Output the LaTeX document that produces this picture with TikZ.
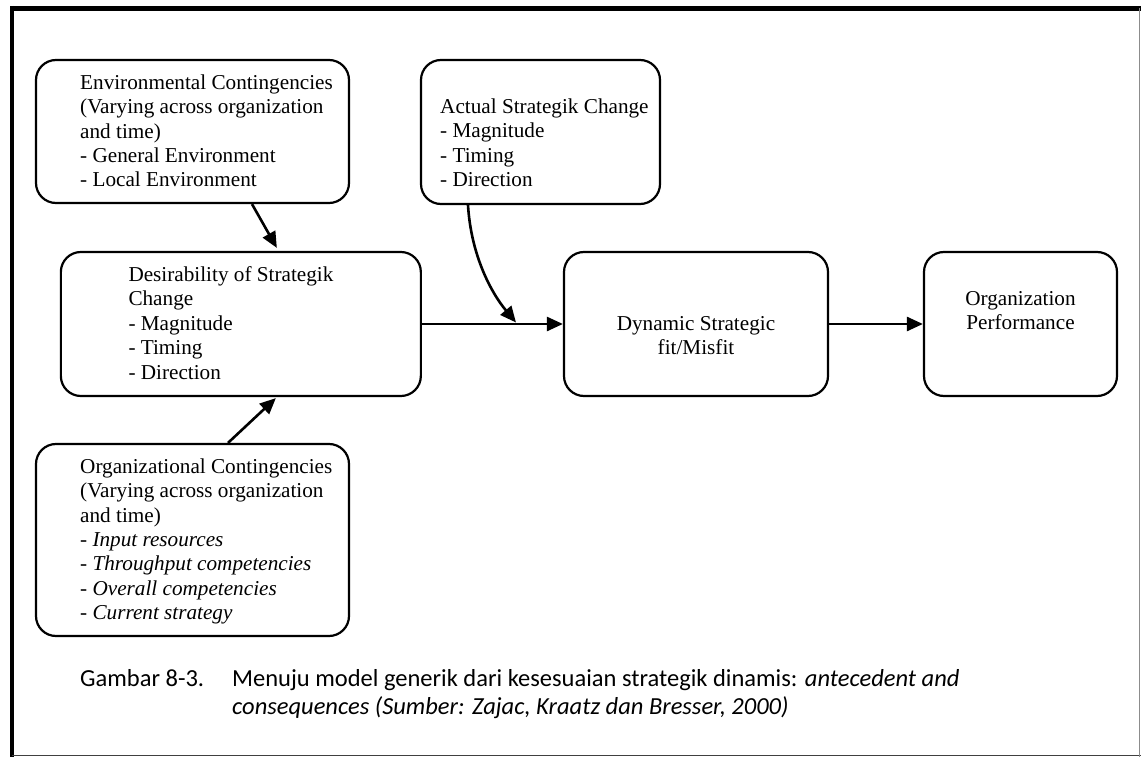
\documentclass[tikz,border=0pt]{standalone}
\usepackage{fontspec}
\setmainfont{Liberation Serif}
\newfontfamily\capfont{Carlito}
\usetikzlibrary{arrows.meta}
\begin{document}
\begin{tikzpicture}[x=1pt,y=-1pt,
  box/.style={draw, line width=2.2pt, rounded corners=20pt, inner sep=0pt},
  link/.style={line width=2.6pt, -{Triangle[length=16pt,width=14pt]}},
  body/.style={inner sep=0pt, anchor=base west, font=\fontsize{21.2}{24.4}\selectfont},
  midtext/.style={inner sep=0pt, anchor=base, font=\fontsize{21.2}{24.4}\selectfont},
  captext/.style={inner sep=0pt, anchor=base west, font=\capfont\fontsize{24.5}{29}\selectfont}]
\useasboundingbox (0,0) rectangle (1141,757);

% page frame
\draw[line width=5pt] (10,8.5) -- (1141,8.5);
\draw[line width=4.5pt] (12,6) -- (12,757);
\draw[line width=1.2pt, black!75] (12,755.5) -- (1141,755.5);
\draw[line width=1pt, black!45] (1139.8,8) -- (1139.8,757);

% boxes
\node[box, minimum width=313pt, minimum height=143pt] (env)  at (192.5,131.5) {};
\node[box, minimum width=239pt, minimum height=144pt] (act)  at (540.5,132)   {};
\node[box, minimum width=360pt, minimum height=144pt] (des)  at (240.85,324)  {};
\node[box, minimum width=264pt, minimum height=144pt] (dyn)  at (696,324)     {};
\node[box, minimum width=193pt, minimum height=144pt] (perf) at (1020.5,324)  {};
\node[box, minimum width=313pt, minimum height=192pt] (org)  at (192.5,540)   {};

% box texts
\node[body] (envtxt) at (80,89.3) {\begin{tabular}[t]{@{}l@{}}
  Environmental Contingencies\\
  (Varying across organization\\
  and time)\\
  - General Environment\\
  - Local Environment\end{tabular}};
\node[body] (acttxt) at (440,113.5) {\begin{tabular}[t]{@{}l@{}}
  Actual Strategik Change\\
  - Magnitude\\
  - Timing\\
  - Direction\end{tabular}};
\node[body] (destxt) at (128.3,281.5) {\begin{tabular}[t]{@{}l@{}}
  Desirability of Strategik\\
  Change\\
  - Magnitude\\
  - Timing\\
  - Direction\end{tabular}};
\node[midtext] (dyntxt) at (696,330) {\begin{tabular}[t]{@{}c@{}}
  Dynamic Strategic\\
  fit/Misfit\end{tabular}};
\node[midtext] (perftxt) at (1020.5,305.5) {\begin{tabular}[t]{@{}c@{}}
  Organization\\
  Performance\end{tabular}};
\node[body] (orgtxt) at (80,473.3) {\begin{tabular}[t]{@{}l@{}}
  Organizational Contingencies\\
  (Varying across organization\\
  and time)\\
  - \textit{Input resources}\\
  - \textit{Throughput competencies}\\
  - \textit{Overall competencies}\\
  - \textit{Current strategy}\end{tabular}};

% connectors
\coordinate (meet) at (516,322.5);
\draw[link] ([xshift=59.5pt]env.south) -- ([xshift=36pt,yshift=3pt]des.north);
\draw[link] ([xshift=35.5pt]org.north) -- ([xshift=35pt,yshift=-1pt]des.south);
\draw[link] (des.east) -- (dyn.west);
\draw[link] ([xshift=-72.5pt]act.south) .. controls +(3,50) and +(-25,-30) .. (meet);
\draw[link] (dyn.east) -- (perf.west);

% caption
\node[captext] (capno) at (80,686) {Gambar 8-3.};
\node[captext] (capa) at (232,686) {Menuju model generik dari kesesuaian strategik dinamis: \textit{antecedent and}};
\node[captext] (capb) at (232,714.5) {\textit{consequences (Sumber: Zajac, Kraatz dan Bresser, 2000)}};
\end{tikzpicture}
\end{document}
